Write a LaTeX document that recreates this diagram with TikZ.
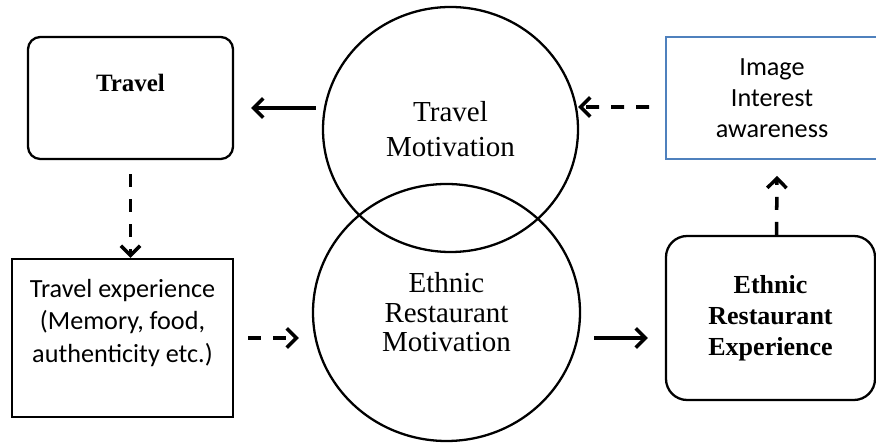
\documentclass[tikz,border=0pt]{standalone}
\usepackage{fontspec}
\setmainfont{Liberation Serif}
\newfontfamily\calibri{Carlito}
\usetikzlibrary{arrows.meta,shapes.geometric,calc}
\usepackage{xcolor}
\definecolor{boxblue}{RGB}{79,129,189}

\begin{document}
\begin{tikzpicture}[
	motive/.style={ellipse,draw,line width=1.3pt,inner sep=0pt,align=center},
	roundbox/.style={rectangle,draw,line width=1.3pt,align=center,font=\fontsize{14.8}{17.6}\selectfont\bfseries},
	plainbox/.style={rectangle,draw,line width=1.3pt,font=\calibri\fontsize{14.9}{18.5}\selectfont},
	solidarrow/.style={-{Straight Barb[length=5.5pt,width=11pt]},line width=2pt},
	dasharrow/.style={solidarrow,dash pattern=on 7.4pt off 6.8pt}
	]
	\useasboundingbox (0,0) rectangle (17.52,8.86);
	\node(travel) at (2.61,6.9)[roundbox,rounded corners=7pt,minimum width=4.1cm,minimum height=2.44cm,text height=0.36cm,text depth=0.6cm,font=\fontsize{14.2}{16}\selectfont\bfseries]{Travel};
	\node(tex) at (2.45,2.1)[plainbox,minimum width=4.42cm,minimum height=3.16cm]{\begin{tabular}{@{}c@{}}Travel experience\\(Memory, food,\\authenticity etc.)\\[17pt]\end{tabular}};
	\node(rm) at (8.93,2.61)[motive,minimum width=5.34cm,minimum height=5.14cm,font=\fontsize{16.5}{16.8}\selectfont]{Ethnic\\Restaurant\\Motivation};
	\node(tm) at (9.01,6.27)[motive,minimum width=5.1cm,minimum height=4.9cm,font=\fontsize{16.5}{19.9}\selectfont]{Travel\\Motivation};
	\node(img) at (15.44,6.9)[plainbox,draw=boxblue,line width=1pt,align=center,minimum width=4.24cm,minimum height=2.44cm,font=\calibri\fontsize{14.9}{17.6}\selectfont]{Image\\Interest\\awareness};
	\node(ere) at (15.41,2.5)[roundbox,rounded corners=12pt,minimum width=4.18cm,minimum height=3.28cm]{Ethnic\\Restaurant\\Experience};

	\draw[solidarrow] ($(tm.west)+(-0.12,0.43)$) -- ($(travel.east)+(0.34,-0.2)$);
	\draw[dasharrow] ($(travel.south)+(0,-0.28)$) -- (travel.south |- tex.north);
	\draw[dasharrow] ($(tex.east)+(0.28,0)$) -- ($(rm.west |- tex.east)+(-0.26,0)$);
	\draw[solidarrow] ($(rm.east |- tex.east)+(0.26,0)$) -- ($(ere.west |- tex.east)+(-0.34,0)$);
	\draw[dasharrow] ($(ere.north)+(0.12,0)$) -- ($(img.south)+(0.1,-0.32)$);
	\draw[dasharrow] ($(img.west)+(-0.32,-0.18)$) -- ($(tm.east)+(-0.02,0.45)$);
\end{tikzpicture}
\end{document}
